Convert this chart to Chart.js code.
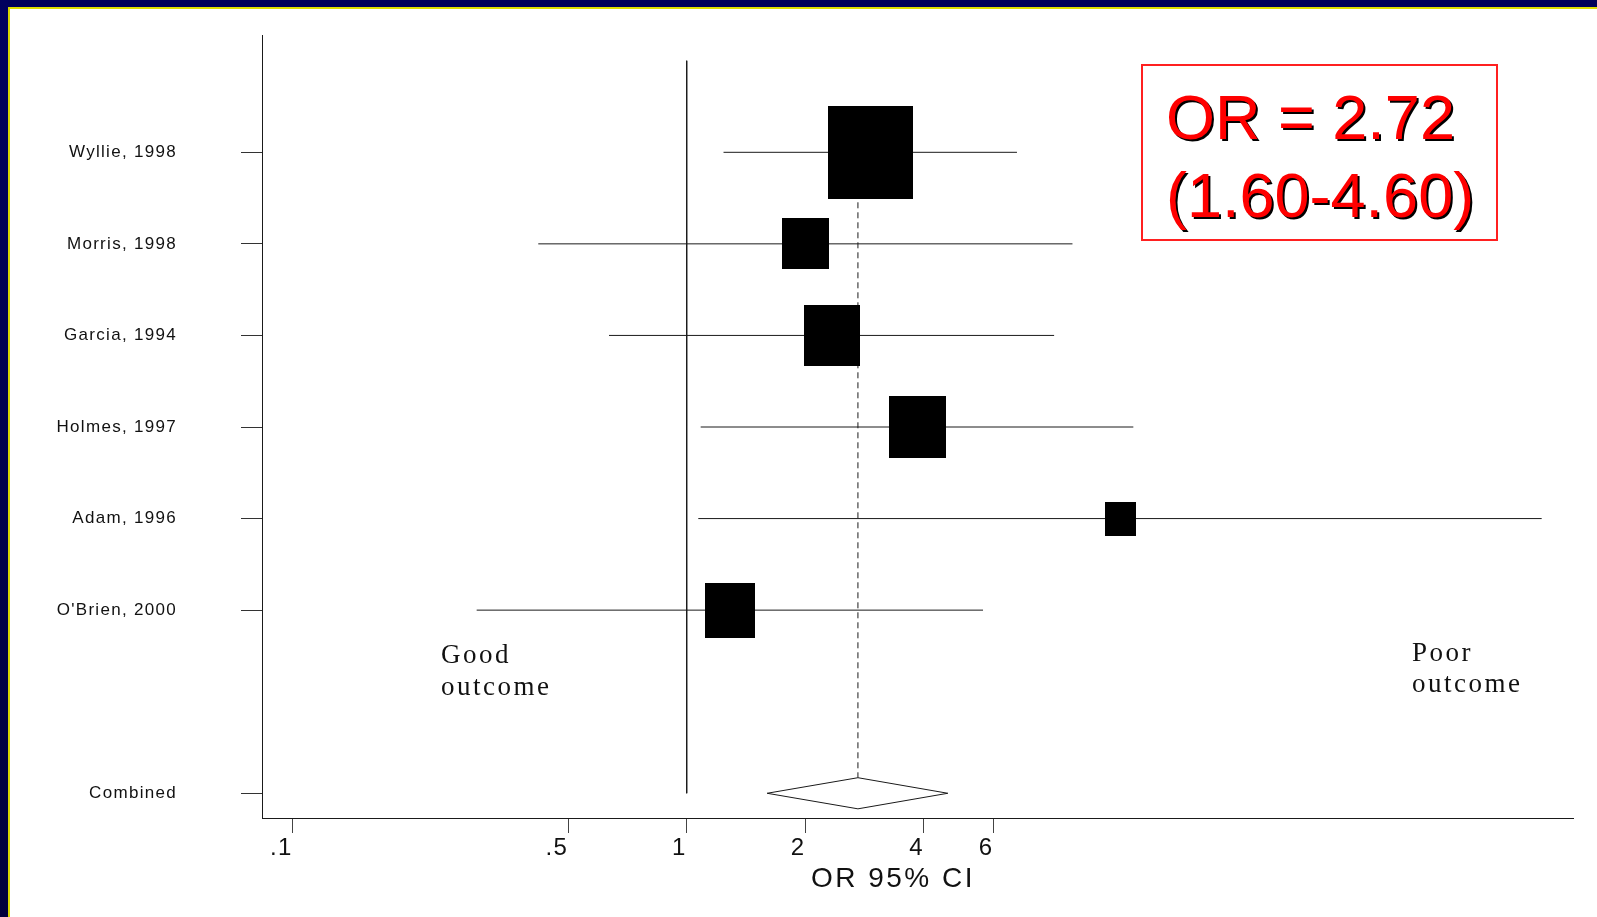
<!DOCTYPE html>
<html>
<head>
<meta charset="utf-8">
<title>Forest plot</title>
<script src="https://cdn.jsdelivr.net/npm/chart.js@4.4.1/dist/chart.umd.min.js"></script>
<style>
  html, body { margin: 0; padding: 0; background: #fff; overflow: hidden; }
  #wrap { position: absolute; left: 0; top: 0; width: 1597px; height: 917px; }
  .band { position: absolute; pointer-events: none; }
  #navyTop { left: 0; top: 0; width: 1597px; height: 7px; background: #00005a; }
  #yellowTop { left: 8px; top: 7px; width: 1589px; height: 2px; background: #dede00; }
  #navyLeft { left: 0; top: 0; width: 8px; height: 917px; background: linear-gradient(#00005e, #00003c); }
  #yellowLeft { left: 8px; top: 7px; width: 2px; height: 910px; background: #d6d600; }
</style>
</head>
<body>
<div id="wrap"><canvas id="plot" width="1597" height="917"></canvas></div>
<div class="band" id="navyTop"></div>
<div class="band" id="yellowTop"></div>
<div class="band" id="navyLeft"></div>
<div class="band" id="yellowLeft"></div>
<script>
// studies, top to bottom
const studies = ["Wyllie, 1998", "Morris, 1998", "Garcia, 1994", "Holmes, 1997", "Adam, 1996", "O'Brien, 2000"];
const oddsRatio = [2.92, 2.00, 2.34, 3.86, 12.6, 1.29];
const ciLower = [1.24, 0.42, 0.635, 1.085, 1.07, 0.293];
const ciUpper = [6.89, 9.53, 8.56, 13.6, 147.9, 5.65];
const weights = [37.6, 11.4, 16.4, 16.8, 5.0, 12.8]; // % weight -> box area

const pooledOR = 2.72;
const pooledLower = 1.60;
const pooledUpper = 4.60;
const combinedRow = 8;

const xTickValues = [0.1, 0.5, 1, 2, 4, 6];
const xTickLabels = [".1", ".5", "1", "2", "4", "6"];
const yTickRows = [1, 2, 3, 4, 5, 6, combinedRow];
const yTickLabels = [...studies, "Combined"];

const sans = '"Liberation Sans", Arial, Helvetica, sans-serif';
const serif = '"Liberation Serif", "Times New Roman", serif';
const ink = "#1a1a1a";
const diamondHalf = 0.17;

// black boxes, area proportional to weight
const boxImages = weights.map(w => {
  const c = document.createElement("canvas");
  c.width = Math.round(13.9 * Math.sqrt(w));
  c.height = Math.round(c.width * 1.09);
  const g = c.getContext("2d");
  g.fillStyle = "#000";
  g.fillRect(0, 0, c.width, c.height);
  return c;
});

const ciSets = studies.map((name, i) => ({
  label: name + " CI",
  data: [{ x: ciLower[i], y: i + 1 }, { x: ciUpper[i], y: i + 1 }],
  showLine: true,
  borderColor: ink,
  borderWidth: 1,
  pointRadius: 0
}));

const datasets = [
  {
    label: "OR",
    data: oddsRatio.map((v, i) => ({ x: v, y: i + 1 })),
    pointStyle: ctx => boxImages[ctx.dataIndex],
    pointRadius: 5
  },
  {
    label: "Combined",
    data: [
      { x: pooledLower, y: combinedRow },
      { x: pooledOR, y: combinedRow - diamondHalf },
      { x: pooledUpper, y: combinedRow },
      { x: pooledOR, y: combinedRow + diamondHalf },
      { x: pooledLower, y: combinedRow }
    ],
    showLine: true,
    borderColor: ink,
    borderWidth: 1,
    backgroundColor: "#fff",
    pointRadius: 0
  },
  ...ciSets,
  {
    label: "pooled line",
    data: [{ x: pooledOR, y: 1 }, { x: pooledOR, y: combinedRow - diamondHalf }],
    showLine: true,
    borderColor: ink,
    borderWidth: 1,
    borderDash: [6, 4],
    pointRadius: 0
  },
  {
    label: "no effect",
    data: [{ x: 1, y: 0 }, { x: 1, y: combinedRow }],
    showLine: true,
    borderColor: ink,
    borderWidth: 1,
    pointRadius: 0
  }
];

const spacing = {
  id: "spacing",
  beforeDraw(chart) { chart.ctx.letterSpacing = "1.3px"; },
  afterDraw(chart) { chart.ctx.letterSpacing = "0px"; }
};

const notes = {
  id: "notes",
  afterDraw(chart) {
    const ctx = chart.ctx;
    ctx.save();
    ctx.fillStyle = "#111";
    ctx.textBaseline = "alphabetic";
    ctx.textAlign = "left";
    ctx.font = "27px " + serif;
    ctx.letterSpacing = "2.5px";
    ctx.fillText("Good", 441, 663);
    ctx.fillText("outcome", 441, 695);
    ctx.fillText("Poor", 1412, 661);
    ctx.fillText("outcome", 1412, 692);

    ctx.font = "28px " + sans;
    ctx.textAlign = "center";
    ctx.fillText("OR 95% CI", 893, 887);

    ctx.strokeStyle = "#ff2020";
    ctx.lineWidth = 2;
    ctx.strokeRect(1142, 65, 355, 175);

    ctx.letterSpacing = "0px";
    ctx.textAlign = "left";
    ctx.font = "63px " + sans;
    ctx.shadowColor = "#000";
    ctx.shadowOffsetX = 2;
    ctx.shadowOffsetY = 2;
    ctx.shadowBlur = 0;
    ctx.fillStyle = "#ff0000";
    ctx.fillText("OR = " + pooledOR.toFixed(2), 1166, 139);
    ctx.fillText("(" + pooledLower.toFixed(2) + "-" + pooledUpper.toFixed(2) + ")", 1166, 217);
    ctx.restore();
  }
};

new Chart(document.getElementById("plot"), {
  type: "scatter",
  data: { datasets },
  options: {
    responsive: false,
    animation: false,
    events: [],
    layout: { padding: { top: 35, right: 24, bottom: 0, left: 0 } },
    plugins: { legend: { display: false }, tooltip: { enabled: false } },
    scales: {
      x: {
        type: "logarithmic",
        bounds: "data",
        min: 0.08357,
        max: 177.6,
        afterFit: s => { s.height = 99; },
        afterBuildTicks: s => { s.ticks = xTickValues.map(v => ({ value: v })); },
        grid: { drawOnChartArea: false, drawTicks: true, tickLength: 15, color: "#444", lineWidth: 1 },
        border: { display: true, color: ink, width: 1 },
        ticks: {
          autoSkip: false,
          maxRotation: 0,
          align: "end",
          padding: 1,
          color: "#111",
          font: { family: sans, size: 24 },
          callback: (v, i) => xTickLabels[i]
        }
      },
      y: {
        type: "linear",
        reverse: true,
        bounds: "data",
        min: -0.281,
        max: 8.27,
        afterFit: s => {
          s.width = 262;
          s.paddingTop = 0;
          s.paddingBottom = 0;
        },
        afterBuildTicks: s => { s.ticks = yTickRows.map(v => ({ value: v })); },
        grid: { drawOnChartArea: false, drawTicks: true, tickLength: 21, color: "#333", lineWidth: 1 },
        border: { display: true, color: ink, width: 1 },
        ticks: {
          autoSkip: false,
          padding: 64,
          color: "#111",
          font: { family: sans, size: 17 },
          callback: (v, i) => yTickLabels[i]
        }
      }
    }
  },
  plugins: [spacing, notes]
});
</script>
</body>
</html>
